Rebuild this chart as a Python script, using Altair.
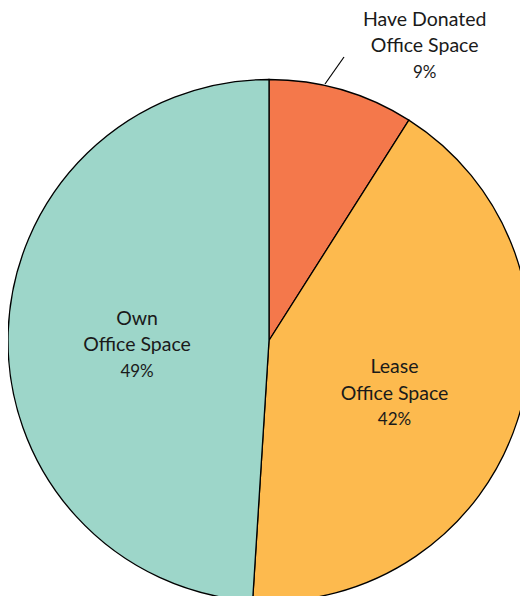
import altair as alt
import pandas as pd

categories = ["Have Donated", "Lease", "Own"]
line1 = ["Have Donated", "Lease", "Own"]
line2 = ["Office Space", "Office Space", "Office Space"]
values = [9, 42, 49]
pct_labels = ["9%", "42%", "49%"]
colors = ["#F4784B", "#FDBA4E", "#9DD6C9"]

df = pd.DataFrame({"cat": categories, "l1": line1, "l2": line2, "value": values,
                   "pct": pct_labels, "order": [0, 1, 2]})

CX, CY, R = 261, 332.5, 261
FONT = "Lato"
TXT = "#1a1a1a"

pie = alt.Chart(df).mark_arc(stroke="black", strokeWidth=1.3, x=CX, y=CY, radius=R).encode(
    theta=alt.Theta("value:Q", stack=True, scale=alt.Scale(domain=[0, 100])),
    order=alt.Order("order:Q"),
    color=alt.Color("cat:N", scale=alt.Scale(domain=categories, range=colors), legend=None),
)

lbl = alt.Chart(df).transform_window(
    cum="sum(value)", sort=[{"field": "order"}]
).transform_calculate(mid="datum.cum - datum.value / 2").encode(
    theta=alt.Theta("mid:Q", stack=None, scale=alt.Scale(domain=[0, 100]))
)

own = lbl.transform_filter(alt.datum.cat == "Own")
lease = lbl.transform_filter(alt.datum.cat == "Lease")
donated = lbl.transform_filter(alt.datum.cat == "Have Donated")

def txt(src, field, r, dx, dy, size):
    return src.mark_text(x=CX, y=CY, radius=r, dx=dx, dy=dy, font=FONT, fontSize=size,
                         baseline="middle", align="center", color=TXT).encode(text=f"{field}:N")

layers = [
    pie,
    alt.Chart(df.head(1)).mark_rule(color="black", strokeWidth=1.2).encode(
        x=alt.value(317), y=alt.value(76), x2=alt.value(336), y2=alt.value(49)),
    txt(own, "l1", 132, 0, -17.5, 19.5),
    txt(own, "l2", 132, 0, 9, 19.5),
    txt(own, "pct", 132, 0, 35.5, 17),
    txt(lease, "l1", 132, 0, -14, 19.5),
    txt(lease, "l2", 132, 0, 12.5, 19.5),
    txt(lease, "pct", 132, 0, 39, 17),
    txt(donated, "l1", 300, 72, -32, 19.5),
    txt(donated, "l2", 300, 72, -6, 19.5),
    txt(donated, "pct", 300, 72, 20.5, 17),
]

chart = alt.layer(*layers).properties(
    width=512, height=588, autosize=alt.AutoSizeParams(type="none"), padding=0
).configure_view(strokeWidth=0)

chart.save("out.html", embed_options={"renderer": "svg", "actions": False})
